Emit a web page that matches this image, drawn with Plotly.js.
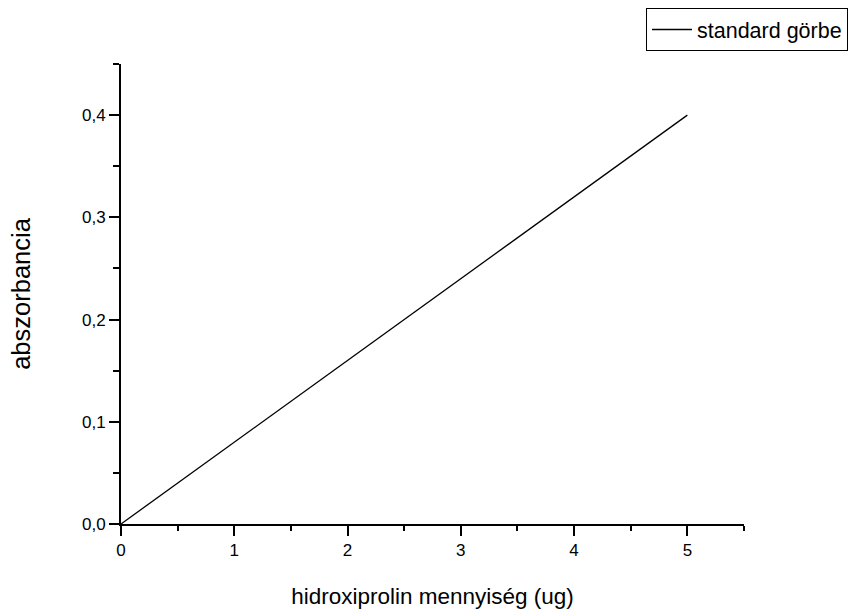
<!DOCTYPE html>
<html>
<head>
<meta charset="utf-8">
<script src="https://cdn.plot.ly/plotly-3.0.1.min.js"></script>
<style>html,body{margin:0;padding:0;background:#fff;}#chart{width:849px;height:609px;}</style>
</head>
<body>
<div id="chart"></div>
<script>
const xValues = [0, 1, 2, 3, 4, 5];
const yValues = [0, 0.08, 0.16, 0.24, 0.32, 0.40];
const seriesName = 'standard görbe';
const xTitle = 'hidroxiprolin mennyiség (ug)';
const yTitle = 'abszorbancia';

const font = 'Liberation Sans, Arial, sans-serif';

const trace = {
  x: xValues, y: yValues, name: seriesName, type: 'scatter', mode: 'lines',
  line: {color: '#000', width: 1.3}
};

const layout = {
  width: 849, height: 609,
  margin: {l: 121, r: 105, t: 64, b: 85, autoexpand: false},
  paper_bgcolor: '#fff', plot_bgcolor: '#fff',
  separators: ',.',
  font: {family: font, color: '#000'},
  showlegend: true,
  legend: {
    xref: 'container', yref: 'container',
    x: 848 / 849, y: 1 - 8 / 609, xanchor: 'right', yanchor: 'top',
    bordercolor: '#000', borderwidth: 1, bgcolor: '#fff',
    font: {family: font, size: 21.5, color: '#000'},
    itemwidth: 40, tracegroupgap: 0
  },
  xaxis: {
    range: [0, 5.5], showgrid: false, zeroline: false, automargin: false,
    showline: true, linecolor: '#000', linewidth: 2,
    ticks: 'outside', ticklen: 10, tickwidth: 2, tickcolor: '#000',
    dtick: 1, tick0: 0, tickfont: {family: font, size: 17, color: '#000'},
    minor: {ticks: 'outside', ticklen: 5, tickwidth: 2, tickcolor: '#000', dtick: 0.5, showgrid: false},
    title: {text: xTitle, font: {family: font, size: 22.5, color: '#000'}, standoff: 30}
  },
  yaxis: {
    range: [0, 0.45], showgrid: false, zeroline: false, automargin: false,
    showline: true, linecolor: '#000', linewidth: 2,
    ticks: 'outside', ticklen: 10, tickwidth: 2, tickcolor: '#000',
    dtick: 0.1, tick0: 0, tickformat: '.1f', tickfont: {family: font, size: 17, color: '#000'},
    minor: {ticks: 'outside', ticklen: 6, tickwidth: 2, tickcolor: '#000', dtick: 0.05, showgrid: false},
    title: {text: yTitle, font: {family: font, size: 25.5, color: '#000'}, standoff: 44}
  }
};

Plotly.newPlot('chart', [trace], layout, {displayModeBar: false, staticPlot: true});
</script>
</body>
</html>
